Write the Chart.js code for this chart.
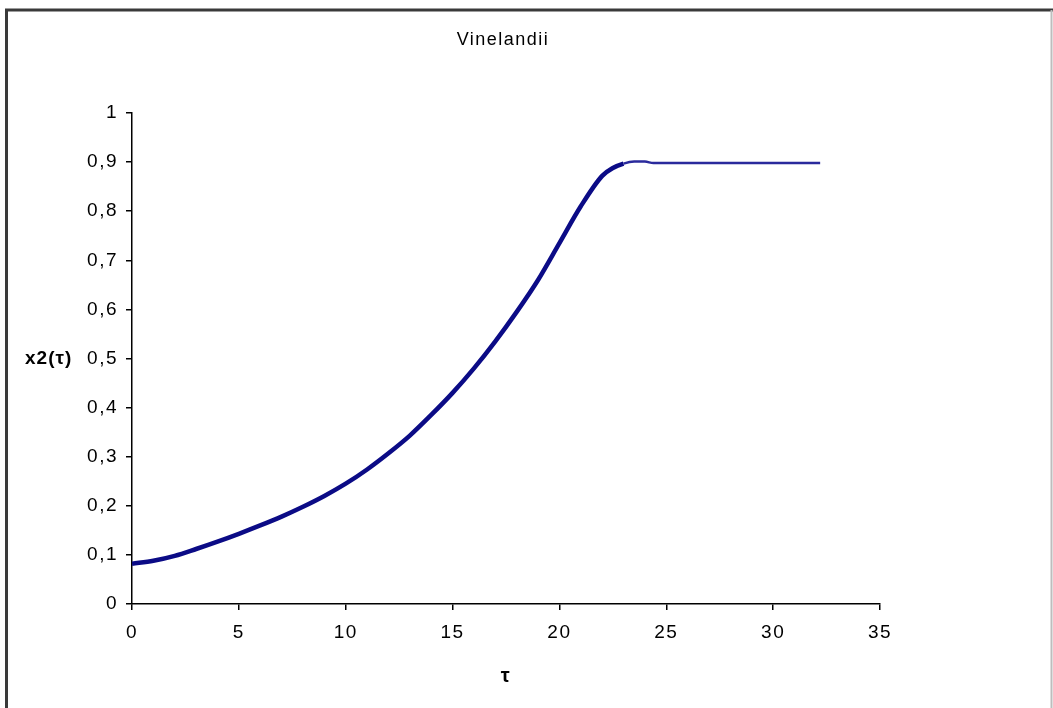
<!DOCTYPE html>
<html>
<head>
<meta charset="utf-8">
<script src="https://cdn.jsdelivr.net/npm/chart.js@4.4.1/dist/chart.umd.min.js"></script>
<style>
  html, body { margin: 0; padding: 0; background: #ffffff; }
  #wrap { width: 1053px; height: 708px; position: relative; }
</style>
</head>
<body>
<div id="wrap"><canvas id="c"></canvas></div>
<script>
// ---- data ----
const chartTitle = 'Vinelandii';
const xAxisLabel = 'τ';
const yAxisLabel = 'x2(τ)';
const tauValues = [0, 1, 2, 3, 4, 5, 6, 7, 8, 9, 10, 11, 12, 13, 14, 15, 16, 17, 18, 19, 20, 21, 22, 22.5, 23, 23.5, 24, 24.4, 32.2];
const x2Values  = [0.082, 0.088, 0.098, 0.112, 0.127, 0.143, 0.160, 0.178, 0.198, 0.220, 0.245, 0.274, 0.307, 0.343, 0.385, 0.430, 0.480, 0.535, 0.595, 0.660, 0.735, 0.810, 0.872, 0.888, 0.897, 0.901, 0.901, 0.898, 0.898];
const xTicks = [0, 5, 10, 15, 20, 25, 30, 35];
const yTicks = [0, 0.1, 0.2, 0.3, 0.4, 0.5, 0.6, 0.7, 0.8, 0.9, 1];
const noisyUntilTau = 23; // thick (noisy) part of the curve ends here

const points = tauValues.map((t, i) => ({ x: t, y: x2Values[i] }));

const FONT = "'Liberation Sans', Arial, sans-serif";

const framePlugin = {
  id: 'frameAndLabels',
  beforeDraw(chart) {
    chart.ctx.letterSpacing = '1.5px';
  },
  afterDraw(chart) {
    const ctx = chart.ctx;
    ctx.save();
    // outer frame
    ctx.strokeStyle = '#3a3a3a';
    ctx.lineWidth = 3;
    ctx.beginPath();
    ctx.moveTo(6.5, 708);
    ctx.lineTo(6.5, 10);
    ctx.lineTo(1053, 10);
    ctx.stroke();
    ctx.strokeStyle = '#bdbdbd';
    ctx.lineWidth = 2;
    ctx.beginPath();
    ctx.moveTo(1051.5, 10);
    ctx.lineTo(1051.5, 708);
    ctx.stroke();
    // horizontal y-axis label
    ctx.letterSpacing = '1px';
    ctx.fillStyle = '#000';
    ctx.font = "bold 19px " + FONT;
    ctx.textAlign = 'left';
    ctx.textBaseline = 'middle';
    ctx.fillText(yAxisLabel, 25, chart.scales.y.getPixelForValue(0.5));
    ctx.restore();
  }
};

new Chart(document.getElementById('c'), {
  type: 'line',
  data: {
    datasets: [{
      label: yAxisLabel,
      data: points,
      borderColor: '#0b0b86',
      borderWidth: 4.5,
      pointRadius: 0,
      fill: false,
      cubicInterpolationMode: 'monotone',
      segment: {
        borderWidth: c => (c.p0.parsed.x >= noisyUntilTau ? 2.5 : 4.5),
        borderColor: c => (c.p0.parsed.x >= noisyUntilTau ? '#2a2a9c' : '#0b0b86')
      }
    }]
  },
  options: {
    responsive: true,
    maintainAspectRatio: false,
    animation: false,
    layout: { padding: { left: 0, right: 47, top: 0, bottom: 0 } },
    plugins: {
      legend: { display: false },
      tooltip: { enabled: false },
      title: {
        display: true,
        text: chartTitle,
        color: '#000',
        font: { family: FONT, size: 18, weight: 'normal', lineHeight: 1.2 },
        padding: { top: 29, bottom: 62.4 }
      }
    },
    scales: {
      x: {
        type: 'linear',
        position: 'bottom',
        min: 0,
        max: 35,
        afterBuildTicks: s => { s.ticks = xTicks.map(v => ({ value: v })); },
        afterFit: s => { s.height = 104; },
        grid: { display: true, drawOnChartArea: false, drawTicks: true, tickLength: 6, color: '#000', lineWidth: 1.5 },
        border: { display: true, color: '#000', width: 1.5 },
        ticks: { color: '#000', font: { family: FONT, size: 19 }, padding: 11, maxRotation: 0 },
        title: {
          display: true,
          text: xAxisLabel,
          color: '#000',
          font: { family: FONT, size: 20, weight: 'bold', lineHeight: 1.2 },
          padding: { top: 20, bottom: 20 }
        }
      },
      y: {
        type: 'linear',
        position: 'left',
        min: 0,
        max: 1,
        afterBuildTicks: s => { s.ticks = yTicks.map(v => ({ value: v })); },
        afterFit: s => { s.width = 132; },
        grid: { display: true, drawOnChartArea: false, drawTicks: true, tickLength: 6, color: '#000', lineWidth: 1.5 },
        border: { display: true, color: '#000', width: 1.5 },
        ticks: {
          color: '#000',
          font: { family: FONT, size: 19 },
          padding: 8,
          callback: v => String(Number(v.toFixed(1))).replace('.', ',')
        }
      },
      spacer: {
        type: 'linear',
        position: 'right',
        display: true,
        grid: { display: false },
        border: { display: false },
        ticks: { display: false },
        afterFit: s => { s.width = 126; }
      }
    }
  },
  plugins: [framePlugin]
});
</script>
</body>
</html>
